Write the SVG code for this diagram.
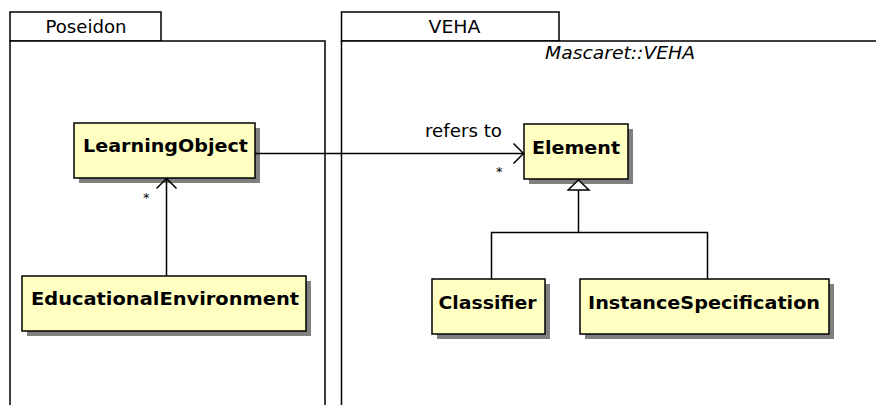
<svg xmlns="http://www.w3.org/2000/svg" width="876" height="405" viewBox="0 0 876 405">
<defs>
<style>
.pkg{fill:#fff;stroke:#000;stroke-width:1.5}
.box{fill:#ffffc2;stroke:#000;stroke-width:1.5}
.shadow{fill:#808080}
.cls{font-family:"DejaVu Sans",sans-serif;font-weight:bold;font-size:18px;fill:#000}
.lbl{font-family:"DejaVu Sans",sans-serif;font-size:17px;fill:#000}
.it{font-family:"DejaVu Sans",sans-serif;font-style:italic;font-size:17px;fill:#000}
.star{font-family:"DejaVu Sans",sans-serif;font-size:13px;fill:#000}
.edge{fill:none;stroke:#000;stroke-width:1.5}
</style>
<marker id="open" viewBox="0 0 12 22" refX="11" refY="11" markerWidth="12" markerHeight="22" markerUnits="userSpaceOnUse" orient="auto">
<path d="M1,1 L11,11 L1,21" fill="none" stroke="#000" stroke-width="1.5"/>
</marker>
<marker id="tri" viewBox="0 0 13 24" refX="12" refY="12" markerWidth="13" markerHeight="24" markerUnits="userSpaceOnUse" orient="auto">
<path d="M1.5,1.5 L11.5,12 L1.5,22.5 Z" fill="#fff" stroke="#000" stroke-width="1.5"/>
</marker>
</defs>
<rect width="876" height="405" fill="#fff"/>
<g id="pkg-poseidon">
<rect class="pkg" x="10" y="12" width="151" height="29"/>
<path class="pkg" d="M10,41 H325 V410 H10 Z"/>
<text class="lbl" x="86" y="33" text-anchor="middle" textLength="81" lengthAdjust="spacingAndGlyphs">Poseidon</text>
</g>
<g id="pkg-veha">
<rect class="pkg" x="341.5" y="12" width="217.5" height="29"/>
<path class="pkg" d="M341.5,410 V41 H880"/>
<text class="lbl" x="454.5" y="33" text-anchor="middle" textLength="52" lengthAdjust="spacingAndGlyphs">VEHA</text>
<text class="it" x="545" y="59" textLength="150" lengthAdjust="spacingAndGlyphs">Mascaret::VEHA</text>
</g>
<g id="LearningObject">
<rect class="shadow" x="79" y="128" width="181" height="55"/>
<rect class="box" x="74" y="123" width="181" height="55"/>
<text class="cls" x="83" y="152" textLength="165" lengthAdjust="spacingAndGlyphs">LearningObject</text>
</g>
<g id="EducationalEnvironment">
<rect class="shadow" x="27" y="281" width="284" height="55"/>
<rect class="box" x="22" y="276" width="284" height="55"/>
<text class="cls" x="31" y="305" textLength="268" lengthAdjust="spacingAndGlyphs">EducationalEnvironment</text>
</g>
<g id="Element">
<rect class="shadow" x="529" y="129" width="104" height="55"/>
<rect class="box" x="524" y="124" width="104" height="55"/>
<text class="cls" x="532" y="154" textLength="88" lengthAdjust="spacingAndGlyphs">Element</text>
</g>
<g id="Classifier">
<rect class="shadow" x="437" y="284" width="113" height="55"/>
<rect class="box" x="432" y="279" width="113" height="55"/>
<text class="cls" x="438.5" y="309" textLength="98" lengthAdjust="spacingAndGlyphs">Classifier</text>
</g>
<g id="InstanceSpecification">
<rect class="shadow" x="585" y="284" width="249" height="55"/>
<rect class="box" x="580" y="279" width="249" height="55"/>
<text class="cls" x="588" y="309" textLength="232" lengthAdjust="spacingAndGlyphs">InstanceSpecification</text>
</g>
<g id="connectors">
<line class="edge" x1="255" y1="153.5" x2="523.5" y2="153.5" marker-end="url(#open)"/>
<text class="lbl" x="425" y="137" textLength="77" lengthAdjust="spacingAndGlyphs">refers to</text>
<text class="star" x="496" y="176">*</text>
<line class="edge" x1="166.5" y1="276" x2="166.5" y2="178.5" marker-end="url(#open)"/>
<text class="star" x="143" y="202">*</text>
<path class="edge" d="M491.5,279 V232.5 H707.5 V279"/>
<line class="edge" x1="578.5" y1="232.5" x2="578.5" y2="179.5" marker-end="url(#tri)"/>
</g>
</svg>
